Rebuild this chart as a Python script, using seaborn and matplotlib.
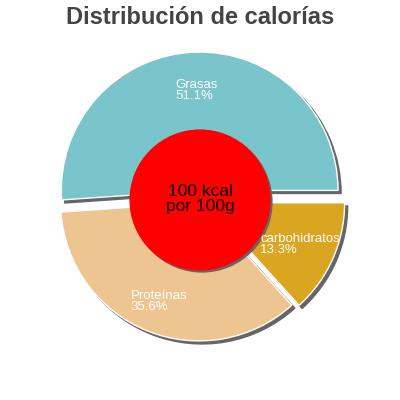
"""Distribución de calorías: exploded pie with a centre badge."""

import matplotlib
matplotlib.use("Agg")
import matplotlib.pyplot as plt
import numpy as np
import seaborn as sns
from matplotlib.patches import Circle

# ---------------------------------------------------------------------------
# Data
# ---------------------------------------------------------------------------
categories = ["Grasas", "Proteínas", "carbohidratos"]
percent = [51.1, 35.6, 13.3]
slice_colors = ["#7AC4CC", "#EEC591", "#DAA520"]
explode = [0.07, 0.02, 0.05]
title = "Distribución de calorías"
centre_text = "100 kcal\npor 100g"

# ---------------------------------------------------------------------------
# Plot
# ---------------------------------------------------------------------------
sns.set_style("white")
plt.rcParams["font.family"] = ["Liberation Sans", "DejaVu Sans"]

fig = plt.figure(figsize=(4, 4), dpi=100)
ax = fig.add_axes([0, 0, 1, 1])

wedges, _ = ax.pie(
    percent,
    colors=slice_colors,
    explode=explode,
    startangle=0,
    counterclock=True,
    radius=1.01,
    shadow={"ox": 0.016, "oy": -0.016, "facecolor": "#666666",
            "edgecolor": "#666666", "alpha": 1.0},
)

# labels sit at 0.8 r along each slice bisector (from the unexploded centre)
for w, c, p in zip(wedges, categories, percent):
    theta = np.deg2rad((w.theta1 + w.theta2) / 2)
    ax.text(0.8 * np.cos(theta), 0.8 * np.sin(theta), f"{c}\n{p:.1f}%",
            ha="center", va="center", multialignment="left",
            color="white", fontsize=9.5, linespacing=0.9, zorder=8)

# centre badge with a thin shadow
ax.add_patch(Circle((0.015, -0.015), 0.51, color="#666666", zorder=5))
ax.add_patch(Circle((0, 0), 0.51, color="#FF0000", zorder=6))
ax.text(0, 0.005, centre_text, ha="center", va="center", fontsize=12.5,
        color="black", linespacing=1.0, zorder=7)

lim = 200 / 137
ax.set_xlim(-lim, lim)
ax.set_ylim(-lim, lim)
ax.set_aspect("equal")
ax.axis("off")

fig.text(0.5, 0.957, title, ha="center", va="center", fontsize=17,
         fontweight="bold", color="#444444")

fig.savefig("out.png", dpi=100)
plt.close(fig)
